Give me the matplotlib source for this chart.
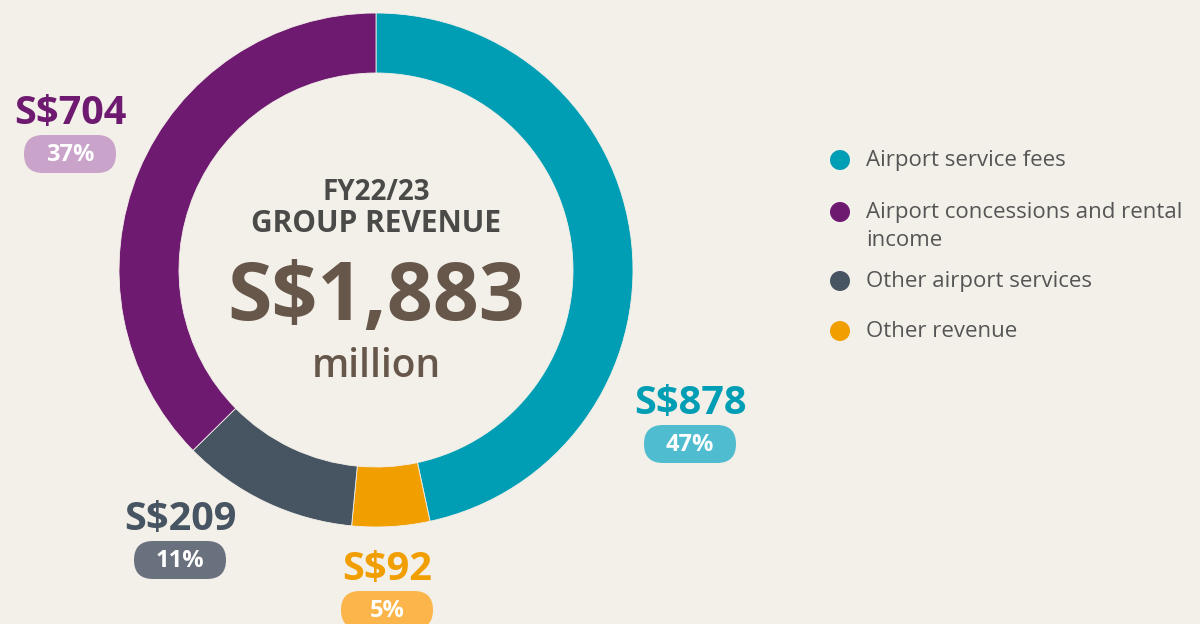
import matplotlib.pyplot as plt
from matplotlib.patches import FancyBboxPatch, Circle

# data
categories = ["Airport service fees", "Other revenue", "Other airport services",
              "Airport concessions and rental income"]
values = [878, 92, 209, 704]
pcts = ["47%", "5%", "11%", "37%"]
colors = ["#009EB4", "#F19E00", "#475563", "#6E1A70"]
pill_colors = ["#4FBCCF", "#FBB54A", "#6A717E", "#C9A3C9"]
legend_labels = ["Airport service fees", "Airport concessions and rental\nincome",
                 "Other airport services", "Other revenue"]
legend_colors = ["#009EB4", "#6E1A70", "#475563", "#F19E00"]

bg = "#F3F0E9"
plt.rcParams['font.family'] = ['Open Sans', 'DejaVu Sans']

fig = plt.figure(figsize=(12, 6.24), dpi=100, facecolor=bg)
ax = fig.add_axes([0, 0, 1, 1])

H = 624
cx, cy = 376, H - 270
ax.pie(values, colors=colors, startangle=90, counterclock=False,
       center=(cx, cy), radius=257, frame=True,
       wedgeprops=dict(width=60, edgecolor=bg, linewidth=0.6))
ax.set_xlim(0, 1200)
ax.set_ylim(0, 624)
ax.set_aspect("equal")
ax.axis("off")

# centre text
ax.text(cx, H - 192, "FY22/23", ha="center", va="center", fontsize=20,
        fontweight="bold", color="#4A4A48")
ax.text(cx, H - 224, "GROUP REVENUE", ha="center", va="center", fontsize=21.5,
        fontweight="bold", color="#4A4A48")
ax.text(cx, H - 299, "S$1,883", ha="center", va="center", fontsize=58,
        fontweight="bold", color="#66574A")
ax.text(cx, H - 367, "million", ha="center", va="center", fontsize=28,
        fontweight="semibold", color="#66574A")

# value labels with pills
label_pos = [(690, 403), (387, 569), (180, 519), (70, 113)]
for (x, y), v, p, c, pc in zip(label_pos, values, pcts, colors, pill_colors):
    ax.text(x, H - y, f"S${v}", ha="center", va="center", fontsize=28.5,
            fontweight="bold", color=c)
    py = y + 41
    ax.add_patch(FancyBboxPatch((x - 46, H - py - 19), 92, 38,
                                boxstyle="round,pad=0,rounding_size=19",
                                fc=pc, ec="none"))
    ax.text(x, H - py - 1, p, ha="center", va="center", fontsize=17,
            fontweight="bold", color="white")

# legend
leg_y = [160, 212, 281, 331]
for y, lab, c in zip(leg_y, legend_labels, legend_colors):
    ax.add_patch(Circle((840, H - y), 10, fc=c, ec="none"))
    ax.text(866, H - y + 10, lab, ha="left", va="top", fontsize=16,
            color="#555555", linespacing=1.45)

fig.savefig("out.png", dpi=100, facecolor=bg)
